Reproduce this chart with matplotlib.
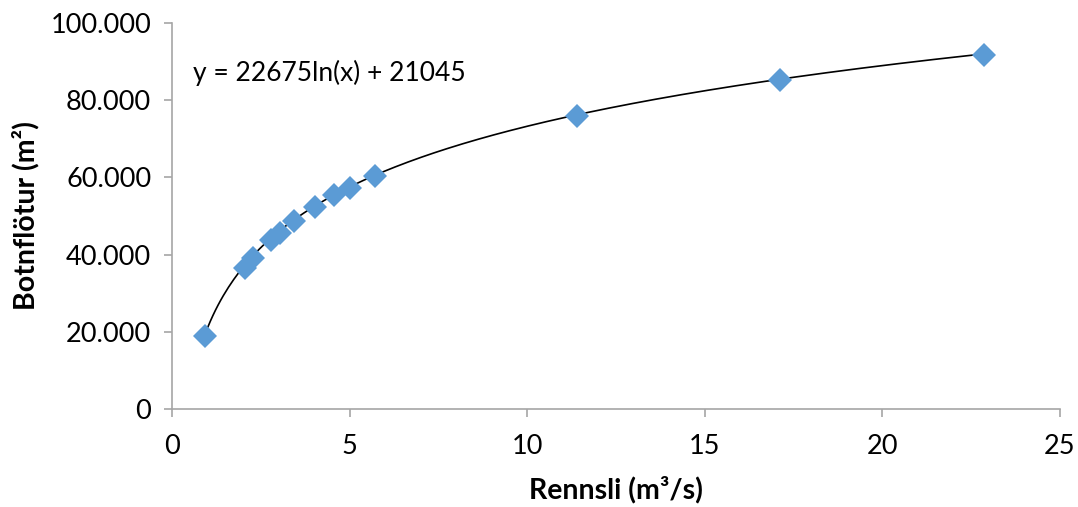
import numpy as np
import matplotlib
matplotlib.use("Agg")
import matplotlib.pyplot as plt
from matplotlib.ticker import FuncFormatter

plt.rcParams['font.family'] = ['Lato', 'DejaVu Sans']

flow = [0.93, 2.06, 2.28, 2.79, 3.04, 3.44, 4.03, 4.56, 5.01, 5.72, 11.41, 17.13, 22.85]
area = [18900, 36500, 39100, 43800, 45600, 48700, 52300, 55400, 57300, 60400, 75900, 85200, 91700]
coef_a = 22675
coef_b = 21045
equation = "y = 22675ln(x) + 21045"
x_ticks = [0, 5, 10, 15, 20, 25]
y_ticks = [0, 20000, 40000, 60000, 80000, 100000]

fig = plt.figure(figsize=(10.78, 5.07), dpi=100)
ax = fig.add_axes([0.1596, 0.1933, 0.9833 - 0.1596, 0.9546 - 0.1933])

xs = np.linspace(min(flow), max(flow), 300)
ax.plot(xs, coef_a * np.log(xs) + coef_b, color='black', lw=1.2, zorder=2)
ax.plot(flow, area, linestyle='none', marker='D', markersize=12.5,
        color='#5B9BD5', markeredgewidth=0, zorder=3)

ax.set_xlim(0, 25)
ax.set_ylim(0, 100000)
ax.set_xticks(x_ticks)
ax.set_yticks(y_ticks)

def fmt(v, pos):
    return f"{int(v):,}".replace(",", ".")
ax.yaxis.set_major_formatter(FuncFormatter(fmt))

for s in ['top', 'right']:
    ax.spines[s].set_visible(False)
for s in ['left', 'bottom']:
    ax.spines[s].set_color('#A6A6A6')
    ax.spines[s].set_linewidth(1.2)
ax.tick_params(axis='both', colors='#A6A6A6', length=6, width=1.2, labelsize=19.5, labelcolor='black')
ax.tick_params(axis='x', pad=12)
ax.tick_params(axis='y', pad=9)

ax.set_xlabel("Rennsli (m³/s)", fontsize=20.5, fontweight='bold', labelpad=12)
ax.set_ylabel("Botnflötur (m²)", fontsize=20.5, fontweight='bold', labelpad=8)

ax.text(0.6, 87000, equation, fontsize=19, va='center', ha='left')

fig.savefig("out.png", dpi=100)
